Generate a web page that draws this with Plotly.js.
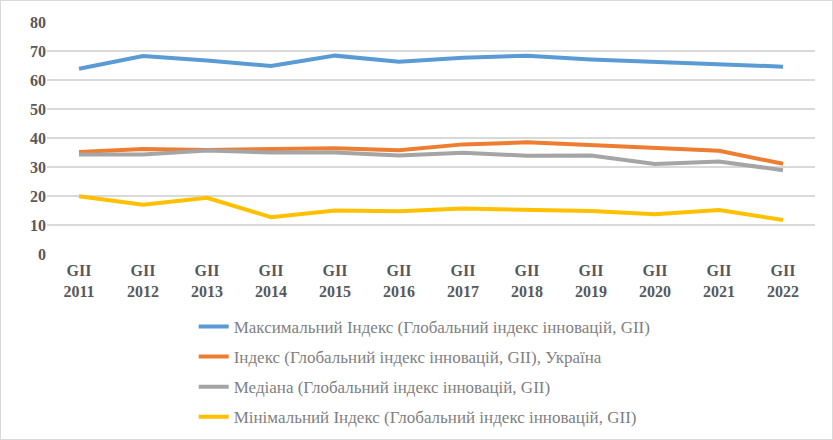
<!DOCTYPE html>
<html><head><meta charset="utf-8">
<script src="https://cdn.plot.ly/plotly-3.0.1.min.js"></script>
<style>html,body{margin:0;padding:0;background:#fff}#c{width:833px;height:440px;box-sizing:border-box;border:1px solid #d9d9d9}</style>
</head><body><div id="c"></div>
<script>
const categories = ["GII<br>2011","GII<br>2012","GII<br>2013","GII<br>2014","GII<br>2015","GII<br>2016","GII<br>2017","GII<br>2018","GII<br>2019","GII<br>2020","GII<br>2021","GII<br>2022"];
const seriesNames = [
  "Максимальний Індекс (Глобальний індекс інновацій, GII)",
  "Індекс (Глобальний індекс інновацій, GII), Україна",
  "Медіана (Глобальний індекс інновацій, GII)",
  "Мінімальний Індекс (Глобальний індекс інновацій, GII)"
];
const maxIndex = [63.9, 68.3, 66.7, 64.8, 68.4, 66.3, 67.7, 68.4, 67.1, 66.2, 65.6, 64.6];
const ukraine  = [35.2, 36.2, 35.9, 36.2, 36.5, 35.8, 37.8, 38.5, 37.5, 36.5, 35.6, 31.1];
const median   = [34.3, 34.3, 35.7, 35.0, 35.0, 34.0, 34.9, 33.9, 34.0, 31.0, 31.9, 28.9];
const minIndex = [19.9, 17.0, 19.4, 12.7, 15.0, 14.7, 15.7, 15.3, 14.8, 13.7, 15.2, 11.7];
const colors = ["#5B9BD5", "#ED7D31", "#A5A5A5", "#FFC000"];
const allSeries = [maxIndex, ukraine, median, minIndex];
const serif = "'Liberation Serif', 'Times New Roman', serif";

const traces = allSeries.map((vals, i) => ({
  x: categories, y: vals, type: "scatter", mode: "lines",
  name: seriesNames[i], legendgroup: "g" + i,
  line: {color: colors[i], width: 4}
}));

const layout = {
  width: 831, height: 438,
  margin: {l: 46, r: 17, t: 21, b: 185, autoexpand: false},
  paper_bgcolor: "#fff", plot_bgcolor: "#fff",
  showlegend: true,
  legend: {
    x: 0.191, y: 0.297, xref: "paper", yref: "container", xanchor: "left", yanchor: "top",
    font: {family: serif, size: 17, color: "#7f7f7f"},
    tracegroupgap: 5, bgcolor: "rgba(0,0,0,0)"
  },
  xaxis: {
    type: "category", range: [-0.5, 11.5],
    showgrid: false, zeroline: false, showline: false,
    ticks: "", ticklabelstandoff: 5,
    tickfont: {family: serif, size: 16, color: "#595959", weight: "bold"},
    fixedrange: true
  },
  yaxis: {
    range: [0, 80], dtick: 10, showgrid: true, gridcolor: "#d9d9d9", gridwidth: 1.3,
    zeroline: false, showline: false, ticks: "",
    tickfont: {family: serif, size: 16, color: "#595959", weight: "bold"},
    fixedrange: true
  }
};
Plotly.newPlot("c", traces, layout, {displayModeBar: false, staticPlot: true});
</script></body></html>
